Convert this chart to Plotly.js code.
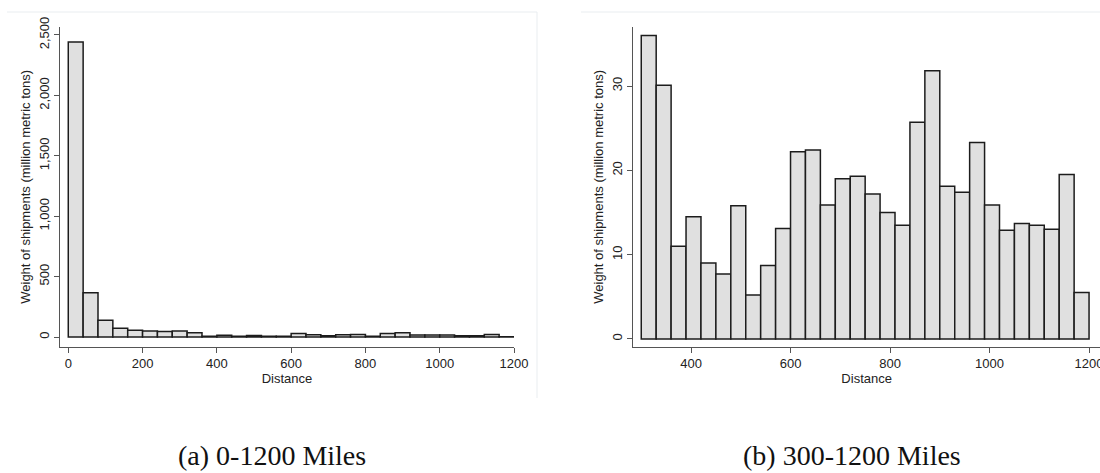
<!DOCTYPE html>
<html>
<head>
<meta charset="utf-8">
<script src="https://cdn.plot.ly/plotly-3.0.1.min.js"></script>
<style>
  html, body { margin: 0; padding: 0; background: #ffffff; }
  #chart { width: 1100px; height: 473px; }
</style>
</head>
<body>
<div id="chart"></div>
<script>
// ---- Data ----
// Panel (a): 0-1200 miles, bins 40 miles wide (bin centres)
const binCentersA = [20, 60, 100, 140, 180, 220, 260, 300, 340, 380,
                     420, 460, 500, 540, 580, 620, 660, 700, 740, 780,
                     820, 860, 900, 940, 980, 1020, 1060, 1100, 1140, 1180];
const weightA = [2442, 367, 138, 72, 56, 50, 45, 50, 36, 7,
                 14, 6, 13, 6, 6, 30, 19, 11, 19, 22,
                 6, 30, 36, 17, 17, 17, 11, 11, 22, 3];

// Panel (b): 300-1200 miles, bins 30 miles wide (bin centres)
const binCentersB = [315, 345, 375, 405, 435, 465, 495, 525, 555, 585,
                     615, 645, 675, 705, 735, 765, 795, 825, 855, 885,
                     915, 945, 975, 1005, 1035, 1065, 1095, 1125, 1155, 1185];
const weightB = [36.0, 30.1, 11.0, 14.5, 9.0, 7.7, 15.8, 5.2, 8.7, 13.1,
                 22.2, 22.4, 15.9, 19.0, 19.3, 17.2, 15.0, 13.5, 25.7, 31.8,
                 18.1, 17.4, 23.3, 15.9, 12.9, 13.7, 13.5, 13.0, 19.5, 5.5];

const ticksAx = [0, 200, 400, 600, 800, 1000, 1200];
const ticksAy = [0, 500, 1000, 1500, 2000, 2500];
const ticksBx = [400, 600, 800, 1000, 1200];
const ticksBy = [0, 10, 20, 30];

const yTitle = 'Weight of shipments (million metric tons)';
const xTitle = 'Distance';
const captionA = '(a) 0-1200 Miles';
const captionB = '(b) 300-1200 Miles';

// ---- Styling ----
const W = 1100, H = 473;
const px = v => v / W;
const py = v => 1 - v / H;

const barFill = '#e0e0e0';
const barLine = { color: '#1c1c1c', width: 1.5 };
const axisCol = '#555555';
const tickFont = { family: 'Liberation Sans, Arial, sans-serif', size: 13, color: '#222222' };
const titleFont = { family: 'Liberation Sans, Arial, sans-serif', size: 13, color: '#222222' };

function xAxis(domain, range, ticks) {
  return {
    domain: domain, range: range,
    tickmode: 'array', tickvals: ticks,
    showline: true, linecolor: axisCol, linewidth: 1,
    ticks: 'outside', ticklen: 5, tickcolor: axisCol, tickwidth: 1,
    showgrid: false, zeroline: false,
    tickfont: tickFont, ticklabeloverflow: 'allow',
    title: { text: xTitle, font: titleFont, standoff: 1 },
    fixedrange: true
  };
}
function yAxis(domain, range, ticks, anchor, fmt) {
  return {
    domain: domain, range: range, anchor: anchor,
    tickmode: 'array', tickvals: ticks, tickformat: fmt,
    tickangle: -90,
    showline: true, linecolor: axisCol, linewidth: 1,
    ticks: 'outside', ticklen: 5, tickcolor: axisCol, tickwidth: 1,
    showgrid: false, zeroline: false,
    tickfont: tickFont,
    title: { text: yTitle, font: titleFont, standoff: 3 },
    fixedrange: true
  };
}

const yDom = [py(346.7), py(27)];

const traces = [
  {
    type: 'bar', x: binCentersA, y: weightA, width: 40,
    xaxis: 'x', yaxis: 'y',
    marker: { color: barFill, line: barLine },
    hoverinfo: 'x+y'
  },
  {
    type: 'bar', x: binCentersB, y: weightB, width: 30,
    xaxis: 'x2', yaxis: 'y2',
    marker: { color: barFill, line: barLine },
    hoverinfo: 'x+y'
  }
];

const borderCol = '#e9edf0';
const layout = {
  width: W, height: H,
  margin: { l: 0, r: 0, t: 0, b: 0, pad: 0 },
  paper_bgcolor: '#ffffff', plot_bgcolor: '#ffffff',
  showlegend: false,
  bargap: 0,
  xaxis: Object.assign(xAxis([px(60), px(514)], [-22.3, 1200], ticksAx), { anchor: 'y' }),
  yaxis: yAxis(yDom, [-80, 2566], ticksAy, 'x', ',d'),
  xaxis2: Object.assign(xAxis([px(633.3), 1], [284, 1222], ticksBx), { anchor: 'y2' }),
  yaxis2: yAxis(yDom, [-0.92, 37.0], ticksBy, 'x2', 'd'),
  shapes: [
    { type: 'line', xref: 'paper', yref: 'paper', x0: px(7), x1: px(537), y0: py(12), y1: py(12),
      line: { color: borderCol, width: 1 } },
    { type: 'line', xref: 'paper', yref: 'paper', x0: px(537), x1: px(537), y0: py(12), y1: py(398),
      line: { color: borderCol, width: 1 } },
    { type: 'line', xref: 'paper', yref: 'paper', x0: px(581), x1: 1, y0: py(12), y1: py(12),
      line: { color: borderCol, width: 1 } }
  ],
  annotations: [
    { text: captionA, xref: 'paper', yref: 'paper', x: px(272), y: py(455),
      xanchor: 'center', yanchor: 'middle', showarrow: false,
      font: { family: 'Liberation Serif, Times New Roman, serif', size: 28, color: '#111111' } },
    { text: captionB, xref: 'paper', yref: 'paper', x: px(852), y: py(455),
      xanchor: 'center', yanchor: 'middle', showarrow: false,
      font: { family: 'Liberation Serif, Times New Roman, serif', size: 28, color: '#111111' } }
  ]
};

Plotly.newPlot('chart', traces, layout, { displayModeBar: false, staticPlot: true });
</script>
</body>
</html>
